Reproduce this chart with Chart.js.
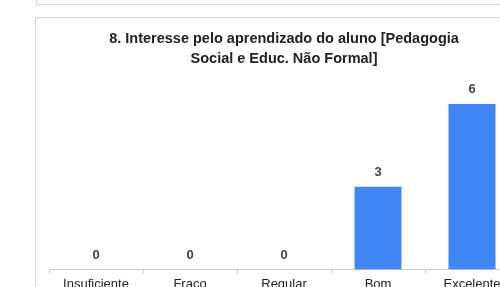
<!DOCTYPE html>
<html>
<head>
<meta charset="utf-8">
<script src="https://cdn.jsdelivr.net/npm/chart.js@4"></script>
<style>
  body { margin: 0; width: 500px; height: 287px; overflow: hidden; background: #fff; position: relative; }
  .box { position: absolute; border: 1px solid #d4d4d4; background: #fff; }
  #top { left: 36px; top: -30px; width: 520px; height: 33px; }
  #panel { left: 35px; top: 17px; width: 520px; height: 300px; }
  #wrap { position: absolute; left: 35px; top: 17px; width: 500px; height: 290px; }
</style>
</head>
<body>
<div class="box" id="top"></div>
<div class="box" id="panel"></div>
<div id="wrap"><canvas id="chart"></canvas></div>
<script>
// values
const titleLines = ["8. Interesse pelo aprendizado do aluno [Pedagogia", "Social e Educ. Não Formal]"];
const categories = ["Insuficiente", "Fraco", "Regular", "Bom", "Excelente"];
const counts = [0, 0, 0, 3, 6];

const FONT = "'Liberation Sans', Arial, sans-serif";

// draws the count above each bar
const valueLabels = {
  id: "valueLabels",
  afterDatasetsDraw(chart) {
    const ctx = chart.ctx;
    const meta = chart.getDatasetMeta(0);
    ctx.save();
    ctx.font = "bold 13px " + FONT;
    ctx.fillStyle = "#444";
    ctx.textAlign = "center";
    ctx.textBaseline = "middle";
    meta.data.forEach((bar, i) => {
      ctx.fillText(counts[i], bar.x, bar.y - 14);
    });
    ctx.restore();
  }
};

const ctx = document.getElementById("chart").getContext("2d");
new Chart(ctx, {
  type: "bar",
  data: {
    labels: categories,
    datasets: [{
      data: counts,
      backgroundColor: "#4285f4",
      categoryPercentage: 1,
      barPercentage: 0.5
    }]
  },
  options: {
    responsive: true,
    maintainAspectRatio: false,
    animation: false,
    layout: { padding: { left: 14, right: 16, top: 0, bottom: 12 } },
    plugins: {
      legend: { display: false },
      tooltip: { enabled: false },
      title: {
        display: true,
        text: titleLines,
        color: "#222",
        font: { family: FONT, size: 14.5, weight: "bold", lineHeight: 1.39 },
        padding: { top: 12, bottom: 7 }
      }
    },
    scales: {
      x: {
        grid: { display: true, drawOnChartArea: false, drawTicks: true, tickLength: 4, color: "#ccc", offset: true },
        border: { display: true, color: "#ccc" },
        ticks: { color: "#222", font: { family: FONT, size: 13 }, padding: 3 }
      },
      y: {
        display: false,
        min: 0,
        max: 7
      }
    }
  },
  plugins: [valueLabels]
});
</script>
</body>
</html>
